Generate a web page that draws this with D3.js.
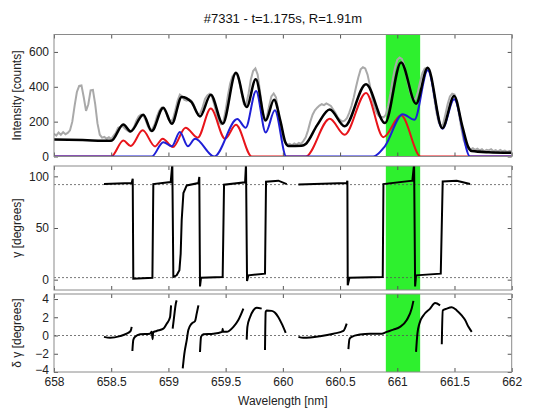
<!DOCTYPE html>
<html>
<head>
<meta charset="utf-8">
<script src="https://cdn.jsdelivr.net/npm/d3@7"></script>
<style>
  body { margin: 0; background: #fff; }
  svg { display: block; font-family: "Liberation Sans", Arial, sans-serif; }
  .tick text { font-size: 12px; fill: #222; }
  .tick line { stroke: #555; }
  .domain { display: none; }
</style>
</head>
<body>
<svg width="533" height="408"></svg>
<script>
// chart data
const title = "#7331 - t=1.175s, R=1.91m";
const wlTicks = [658, 658.5, 659, 659.5, 660, 660.5, 661, 661.5, 662];
const intensityTicks = [0, 200, 400, 600];
const gammaTicks = [0, 50, 100];
const dGammaTicks = [-4, -2, 0, 2, 4];
const highlightBand = [660.9, 661.2];
const gammaRefs = [92, 2];
const dGammaRefs = [0];

// measured spectrum [wavelength nm, counts]
const spectrum = [
  [658.00,130],[658.02,120],[658.04,138],[658.06,125],[658.08,140],[658.10,128],[658.12,135],[658.14,150],[658.16,200],[658.18,290],
  [658.20,370],[658.22,405],[658.24,408],[658.26,340],[658.28,262],[658.30,300],[658.32,380],[658.34,382],[658.36,300],[658.38,190],
  [658.40,125],[658.42,108],[658.44,112],[658.46,102],[658.48,110],[658.50,100],[658.52,118],[658.54,135],[658.56,165],[658.58,170],
  [658.60,175],[658.62,160],[658.64,150],[658.66,142],[658.68,150],[658.70,170],[658.72,205],[658.74,230],[658.76,240],[658.78,235],
  [658.80,210],[658.82,175],[658.84,150],[658.86,158],[658.88,185],[658.90,230],[658.92,262],[658.94,280],[658.96,275],[658.98,250],
  [659.00,215],[659.02,200],[659.04,215],[659.06,265],[659.08,320],[659.10,355],[659.12,345],[659.14,325],[659.16,320],[659.18,328],
  [659.20,320],[659.22,300],[659.24,265],[659.26,240],[659.28,250],[659.30,285],[659.32,330],[659.34,350],[659.36,360],[659.38,345],
  [659.40,300],[659.42,245],[659.44,200],[659.46,185],[659.48,200],[659.50,265],[659.52,350],[659.54,420],[659.56,460],[659.58,475],
  [659.60,470],[659.62,430],[659.64,360],[659.66,300],[659.68,300],[659.70,360],[659.72,440],[659.74,490],[659.76,505],[659.78,470],
  [659.80,375],[659.82,265],[659.84,210],[659.86,225],[659.88,290],[659.90,345],[659.92,362],[659.94,340],[659.96,260],[659.98,170],
  [660.00,110],[660.02,80],[660.04,68],[660.06,72],[660.08,64],[660.10,75],[660.12,68],[660.14,78],[660.16,72],[660.18,90],
  [660.20,110],[660.22,150],[660.24,200],[660.26,240],[660.28,265],[660.30,280],[660.32,292],[660.34,300],[660.36,295],[660.38,305],
  [660.40,298],[660.42,290],[660.44,270],[660.46,250],[660.48,225],[660.50,210],[660.52,200],[660.54,205],[660.56,220],[660.58,250],
  [660.60,290],[660.62,340],[660.64,400],[660.66,455],[660.68,500],[660.70,512],[660.72,505],[660.74,470],[660.76,410],[660.78,340],
  [660.80,285],[660.82,250],[660.84,232],[660.86,228],[660.88,225],[660.90,240],[660.92,290],[660.94,360],[660.96,440],[660.98,510],
  [661.00,555],[661.02,568],[661.04,560],[661.06,525],[661.08,460],[661.10,400],[661.12,350],[661.14,325],[661.16,330],[661.18,370],
  [661.20,430],[661.22,480],[661.24,505],[661.26,510],[661.28,495],[661.30,440],[661.32,350],[661.34,260],[661.36,200],[661.38,175],
  [661.40,185],[661.42,240],[661.44,300],[661.46,345],[661.48,360],[661.50,355],[661.52,315],[661.54,240],[661.56,160],[661.58,95],
  [661.60,60],[661.62,45],[661.64,40],[661.66,48],[661.68,38],[661.70,45],[661.72,35],[661.74,42],[661.76,30],[661.78,38],
  [661.80,35],[661.82,42],[661.84,30],[661.86,36],[661.88,28],[661.90,38],[661.92,30],[661.94,34],[661.96,26],[661.98,32],[662.00,30]
];

// total fit
const fitTotal = [
  [658.00,98],[658.25,94],[658.50,90],[658.606,184],[658.67,144],[658.78,240],[658.854,146],[658.955,280],[659.03,188],
  [659.116,342],[659.20,313],[659.276,230],[659.37,355],[659.475,188],[659.59,480],[659.684,284],[659.763,443],[659.85,207],
  [659.923,326],[659.98,200],[660.02,85],[660.05,60],[660.165,62],[660.20,72],[660.30,180],[660.41,269],[660.54,173],
  [660.727,415],[660.893,192],[661.033,540],[661.164,303],[661.266,509],[661.394,163],[661.497,347],[661.57,170],
  [661.62,55],[661.65,31],[661.80,24],[662.00,21]
];

// red component
const fitRed = [
  [658.00,0],[658.50,0],[658.606,92],[658.67,60],[658.775,150],[658.883,58],[658.95,102],[659.04,54],[659.15,165],
  [659.256,108],[659.37,275],[659.495,102],[659.59,182],[659.728,0],[660.20,0],[660.41,217],[660.54,125],[660.727,365],
  [660.878,111],[661.033,236],[661.205,0],[662.00,0]
];

// blue component
const fitBlue = [
  [658.00,0],[658.854,0],[658.955,82],[659.03,59],[659.10,140],[659.17,59],[659.233,102],[659.40,0],[659.602,215],
  [659.675,165],[659.766,376],[659.85,138],[659.93,265],[660.03,0],[660.79,0],[660.893,60],[661.048,242],[661.15,211],
  [661.266,495],[661.394,159],[661.497,328],[661.636,0],[662.00,0]
];

// gamma [degrees], two runs
const gammaRuns = [
  [[658.437,92.5],[658.679,93.5],[658.688,97.7],[658.693,1.0],[658.860,1.9],[658.868,92.5],[659.020,94.5],[659.034,112],
   [659.043,2.6],[659.072,4.2],[659.096,9.1],[659.107,25],[659.116,57.8],[659.131,83.8],[659.160,91.2],[659.262,93.5],
   [659.270,99.4],[659.276,-6.5],[659.285,1.9],[659.474,2.6],[659.486,91.9],[659.670,94.2],[659.678,112],[659.687,-1.3],
   [659.699,4.2],[659.844,5.8],[659.853,94.8],[659.961,95.8],[660.034,92.5]],
  [[660.136,92.2],[660.558,93.5],[660.564,95.8],[660.567,-5.5],[660.582,1.9],[660.873,2.6],[660.879,92.5],[661.132,95.8],
   [661.147,112],[661.156,-6.5],[661.164,4.2],[661.380,5.8],[661.397,95.1],[661.520,95.8],[661.636,92.5]]
];

// delta gamma [degrees], separate pieces
const dGammaRuns = [
  [[658.437,-0.15],[658.49,-0.25],[658.577,-0.07],[658.635,0.2],[658.670,0.5],[658.679,0.95]],
  [[658.685,-1.7],[658.693,-0.5],[658.708,-0.15],[658.752,0.15],[658.839,0.2],[658.854,0.4],[658.862,-0.4],[658.866,0.35],
   [658.897,0.5],[658.956,0.75],[658.985,1.3],[659.014,2.0],[659.023,3.3]],
  [[659.037,0.75],[659.049,2.0],[659.066,3.6],[659.072,3.85]],
  [[659.125,-3.6],[659.139,-2.0],[659.160,-0.5],[659.174,0.6],[659.203,1.3],[659.233,1.6],[659.247,2.4],[659.262,3.3]],
  [[659.276,-1.8],[659.285,-0.15],[659.305,0.15],[659.393,0.2],[659.470,0.4],[659.474,0.75],[659.478,0.4],[659.509,0.4],
   [659.568,0.95],[659.611,1.7],[659.655,2.95]],
  [[659.684,-0.45],[659.690,0.95],[659.713,2.0],[659.742,2.75],[659.772,3.05],[659.815,2.95]],
  [[659.844,-1.6],[659.850,2.6],[659.859,2.75],[659.903,2.7],[659.932,2.5],[659.961,2.0],[659.990,1.3],[660.025,0.3]],
  [[660.136,-0.15],[660.179,-0.25],[660.325,-0.07],[660.442,0.2],[660.529,0.5],[660.558,1.3]],
  [[660.573,-1.5],[660.582,-0.4],[660.602,-0.15],[660.675,0.1],[660.762,0.2],[660.864,0.2],[660.908,0.4],[660.966,0.65],
   [661.024,0.95],[661.083,1.7],[661.126,2.95],[661.141,3.8]],
  [[661.164,-1.8],[661.176,0.2],[661.193,1.3],[661.228,2.2],[661.287,2.95],[661.330,3.55],[661.374,3.3]],
  [[661.389,-0.95],[661.397,2.75],[661.432,2.95],[661.476,3.1],[661.520,2.75],[661.563,2.2],[661.593,1.7],[661.622,0.95],[661.651,0.4]]
];

const svg = d3.select("svg");
const left = 54, right = 511.7;

const x = d3.scaleLinear().domain([658, 662]).range([left, right]);

const panels = [
  { id: "p1", y: d3.scaleLinear().domain([0, 700]).range([156.5, 34.5]), ticks: intensityTicks, label: "Intensity [counts]" },
  { id: "p2", y: d3.scaleLinear().domain([-10, 110]).range([290, 166]), ticks: gammaTicks, label: "\u03b3 [degrees]" },
  { id: "p3", y: d3.scaleLinear().domain([-4, 4.55]).range([372, 294]), ticks: dGammaTicks, label: "\u03b4 \u03b3 [degrees]" }
];

svg.append("text")
  .attr("x", (left + right) / 2)
  .attr("y", 23)
  .attr("text-anchor", "middle")
  .style("font-size", "13px")
  .style("fill", "#111")
  .text(title);

panels.forEach((p, i) => {
  const [y0, y1] = p.y.range();
  const g = svg.append("g");

  g.append("clipPath").attr("id", "clip-" + p.id)
    .append("rect")
    .attr("x", left).attr("y", y1)
    .attr("width", right - left).attr("height", y0 - y1);

  // green band
  g.append("rect")
    .attr("x", x(highlightBand[0]))
    .attr("y", y1)
    .attr("width", x(highlightBand[1]) - x(highlightBand[0]))
    .attr("height", y0 - y1)
    .attr("fill", "#2ef02e");

  const body = g.append("g").attr("clip-path", "url(#clip-" + p.id + ")");

  // axes, ticks pointing inward
  const last = i === panels.length - 1;
  g.append("g").attr("transform", `translate(0,${y0})`)
    .call(d3.axisBottom(x).tickValues(wlTicks).tickSize(-4).tickPadding(5)
      .tickFormat(last ? d3.format("") : () => ""));
  g.append("g").attr("transform", `translate(0,${y1})`)
    .call(d3.axisTop(x).tickValues(wlTicks).tickSize(-4).tickFormat(() => ""));
  g.append("g").attr("transform", `translate(${left},0)`)
    .call(d3.axisLeft(p.y).tickValues(p.ticks).tickSize(-4).tickPadding(5));
  g.append("g").attr("transform", `translate(${right},0)`)
    .call(d3.axisRight(p.y).tickValues(p.ticks).tickSize(-4).tickFormat(() => ""));

  g.append("rect")
    .attr("x", left).attr("y", y1)
    .attr("width", right - left).attr("height", y0 - y1)
    .attr("fill", "none")
    .attr("stroke", "#8a8a8a")
    .attr("stroke-width", 1);

  g.append("text")
    .attr("transform", `translate(21,${(y0 + y1) / 2}) rotate(-90)`)
    .attr("text-anchor", "middle")
    .style("font-size", "12px")
    .style("fill", "#222")
    .text(p.label);

  p.body = body;
});

// nudge the lowest delta-gamma label up so it clears the wavelength labels
svg.selectAll("g").filter(function() { return this.getAttribute("transform") === `translate(${left},0)`; })
  .selectAll(".tick text").filter(d => d === -4).attr("dy", "0.1em");

// top panel: spectrum and fit
const yI = panels[0].y;
const lineRaw = d3.line().x(d => x(d[0])).y(d => yI(d[1]));
const lineFit = d3.line().x(d => x(d[0])).y(d => yI(d[1])).curve(d3.curveMonotoneX);

panels[0].body.append("path").datum(spectrum)
  .attr("d", lineRaw).attr("fill", "none").attr("stroke", "#a9a9a9").attr("stroke-width", 2);
panels[0].body.append("path").datum(fitRed)
  .attr("d", lineFit).attr("fill", "none").attr("stroke", "#e8141a").attr("stroke-width", 2);
panels[0].body.append("path").datum(fitBlue)
  .attr("d", lineFit).attr("fill", "none").attr("stroke", "#1f1fd6").attr("stroke-width", 2);
panels[0].body.append("path").datum(fitTotal)
  .attr("d", lineFit).attr("fill", "none").attr("stroke", "#000").attr("stroke-width", 2.5);

// middle panel: gamma
const yG = panels[1].y;
panels[1].body.selectAll("line.ref").data(gammaRefs).enter().append("line")
  .attr("x1", left).attr("x2", right)
  .attr("y1", d => yG(d)).attr("y2", d => yG(d))
  .attr("stroke", "#555").attr("stroke-width", 0.8).attr("stroke-dasharray", "2,2");
const lineG = d3.line().x(d => x(d[0])).y(d => yG(d[1]));
panels[1].body.selectAll("path.run").data(gammaRuns).enter().append("path")
  .attr("d", lineG).attr("fill", "none").attr("stroke", "#000").attr("stroke-width", 2);

// bottom panel: delta gamma
const yD = panels[2].y;
panels[2].body.selectAll("line.ref").data(dGammaRefs).enter().append("line")
  .attr("x1", left).attr("x2", right)
  .attr("y1", d => yD(d)).attr("y2", d => yD(d))
  .attr("stroke", "#555").attr("stroke-width", 0.8).attr("stroke-dasharray", "2,2");
const lineD = d3.line().x(d => x(d[0])).y(d => yD(d[1])).curve(d3.curveMonotoneX);
panels[2].body.selectAll("path.run").data(dGammaRuns).enter().append("path")
  .attr("d", lineD).attr("fill", "none").attr("stroke", "#000").attr("stroke-width", 2);

svg.append("text")
  .attr("x", (left + right) / 2)
  .attr("y", 405)
  .attr("text-anchor", "middle")
  .style("font-size", "12px")
  .style("fill", "#222")
  .text("Wavelength [nm]");
</script>
</body>
</html>
